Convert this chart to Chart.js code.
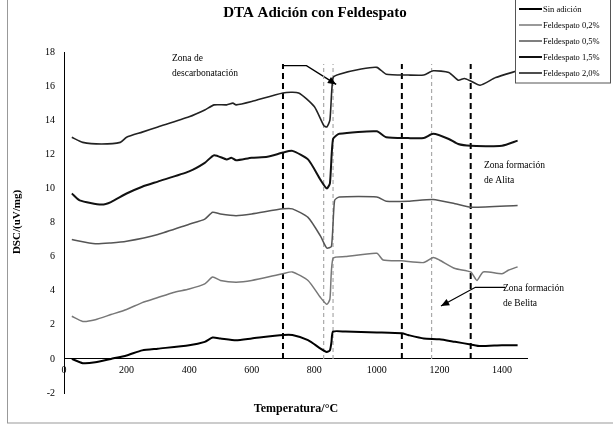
<!DOCTYPE html>
<html><head><meta charset="utf-8">
<script src="https://cdn.jsdelivr.net/npm/chart.js@4"></script>
<style>body{margin:0;background:#fff}#wrap{width:613px;height:427px}</style>
</head><body><div id="wrap"><canvas id="c"></canvas></div>
<script>
const seriesNames = ['Sin adición', 'Feldespato 0,2%', 'Feldespato 0,5%', 'Feldespato 1,5%', 'Feldespato 2,0%'];
const sinAdicion = [[25,0],[60,-0.25],[100,-0.2],[150,0],[200,0.2],[250,0.5],[300,0.6],[400,0.8],[450,1.0],[475,1.25],[500,1.2],[550,1.1],[600,1.2],[700,1.4],[730,1.4],[780,1.1],[820,0.6],[840,0.4],[850,0.5],[855,1.0],[860,1.6],[900,1.6],[1000,1.55],[1080,1.5],[1100,1.4],[1150,1.2],[1200,1.15],[1250,1.0],[1300,0.85],[1330,0.75],[1400,0.8],[1450,0.8]];
const feld02 = [[25,2.5],[60,2.2],[100,2.3],[150,2.6],[200,2.9],[250,3.3],[300,3.6],[350,3.9],[400,4.1],[450,4.4],[475,4.8],[500,4.6],[550,4.5],[600,4.6],[700,5.0],[730,5.1],[780,4.6],[820,3.6],[840,3.2],[850,3.5],[860,5.9],[900,6.0],[1000,6.2],[1020,5.8],[1080,5.75],[1150,5.65],[1180,5.95],[1200,5.8],[1250,5.3],[1300,5.1],[1320,4.6],[1340,5.1],[1400,5.0],[1420,5.2],[1450,5.4]];
const feld05 = [[25,7.0],[100,6.75],[150,6.8],[200,6.9],[300,7.3],[400,7.9],[450,8.2],[475,8.6],[500,8.5],[550,8.4],[600,8.5],[700,8.8],[730,8.8],[780,8.3],[820,7.2],[840,6.5],[855,6.6],[865,9.3],[880,9.5],[1000,9.5],[1030,9.25],[1100,9.25],[1180,9.35],[1250,9.1],[1300,8.9],[1450,9.0]];
const feld15 = [[25,9.7],[50,9.3],[120,9.05],[150,9.2],[200,9.7],[250,10.1],[300,10.4],[400,11.0],[450,11.5],[480,11.95],[520,11.7],[535,11.8],[550,11.65],[600,11.8],[650,11.85],[700,12.1],[730,12.2],[780,11.7],[820,10.5],[840,10.0],[850,10.3],[860,12.9],[880,13.2],[1000,13.35],[1030,13.0],[1100,12.95],[1150,12.95],[1180,13.2],[1230,12.9],[1260,12.6],[1300,12.5],[1400,12.5],[1450,12.8]];
const feld20 = [[25,13.0],[60,12.7],[120,12.6],[180,12.7],[200,13.0],[250,13.3],[300,13.6],[400,14.2],[450,14.6],[480,14.9],[520,14.9],[540,15.0],[550,14.9],[600,15.1],[700,15.6],[750,15.6],[800,14.8],[830,13.7],[840,13.6],[850,14.0],[860,16.5],[880,16.7],[950,17.0],[1000,17.1],[1030,16.7],[1100,16.65],[1150,16.65],[1180,16.9],[1230,16.8],[1260,16.35],[1280,16.45],[1300,16.3],[1330,16.05],[1380,16.5],[1450,16.9]];
const seriesColors = ['#000', '#777', '#555', '#111', '#222'];
const seriesWidths = [2, 1.5, 1.5, 2, 1.6];
const blackMarks = [700, 1080, 1300];
const grayMarks = [830, 860, 1175];
const arrowDescarb = [[700,17.2],[775,17.2],[870,16.1]];
const arrowBelita = [[1410,4.2],[1315,4.2],[1205,3.1]];

const pts = a => a.map(p => ({x: p[0], y: p[1]}));
const datasets = [sinAdicion, feld02, feld05, feld15, feld20].map((d, i) => ({
  data: pts(d), borderColor: seriesColors[i], borderWidth: seriesWidths[i], pointRadius: 0, tension: 0.2
}));
blackMarks.forEach(x => datasets.push({data: [{x, y: 0}, {x, y: 17.3}], borderColor: '#000', borderWidth: 2, borderDash: [6, 4], pointRadius: 0}));
grayMarks.forEach(x => datasets.push({data: [{x, y: 0}, {x, y: 17.3}], borderColor: '#aaa', borderWidth: 1.2, borderDash: [4, 3], pointRadius: 0}));
[arrowDescarb, arrowBelita].forEach(a => datasets.push({data: pts(a), borderColor: '#000', borderWidth: 1.3, pointRadius: 0, arrow: true}));

const serif = '"Liberation Serif", "DejaVu Serif", serif';

const extras = {
  id: 'extras',
  afterDraw(chart) {
    const ctx = chart.ctx, xs = chart.scales.x, ys = chart.scales.y;
    ctx.save();
    ctx.strokeStyle = '#999'; ctx.lineWidth = 1;
    ctx.strokeRect(7.5, -1, 610, 424);
    // arrowheads
    chart.data.datasets.forEach(ds => {
      if (!ds.arrow) return;
      const n = ds.data.length, a = ds.data[n - 2], b = ds.data[n - 1];
      const x1 = xs.getPixelForValue(a.x), y1 = ys.getPixelForValue(a.y);
      const x2 = xs.getPixelForValue(b.x), y2 = ys.getPixelForValue(b.y);
      const ang = Math.atan2(y2 - y1, x2 - x1);
      ctx.fillStyle = '#000';
      ctx.beginPath();
      ctx.moveTo(x2, y2);
      ctx.lineTo(x2 - 9 * Math.cos(ang - 0.4), y2 - 9 * Math.sin(ang - 0.4));
      ctx.lineTo(x2 - 9 * Math.cos(ang + 0.4), y2 - 9 * Math.sin(ang + 0.4));
      ctx.fill();
    });
    ctx.fillStyle = '#000';
    ctx.font = 'bold 15px ' + serif; ctx.textAlign = 'center';
    ctx.fillText('DTA Adición con Feldespato', 315, 17);
    ctx.font = 'bold 12px ' + serif;
    ctx.fillText('Temperatura/°C', 296, 412);
    ctx.save();
    ctx.translate(20, 222); ctx.rotate(-Math.PI / 2);
    ctx.font = 'bold 11px ' + serif;
    ctx.fillText('DSC/(uV/mg)', 0, 0);
    ctx.restore();
    ctx.font = '9.5px ' + serif; ctx.textAlign = 'left';
    ctx.fillText('Zona de', 172, 61);
    ctx.fillText('descarbonatación', 172, 76);
    ctx.fillText('Zona formación', 484, 168);
    ctx.fillText('de Alita', 484, 183);
    ctx.fillText('Zona formación', 503, 291);
    ctx.fillText('de Belita', 503, 306);
    // legend
    ctx.fillStyle = '#fff'; ctx.strokeStyle = '#555';
    ctx.fillRect(515, 0, 96, 83); ctx.strokeRect(515.5, -1, 95, 84);
    ctx.font = '8.5px ' + serif;
    seriesNames.forEach((name, i) => {
      const y = 9 + i * 16;
      ctx.strokeStyle = seriesColors[i]; ctx.lineWidth = seriesWidths[i];
      ctx.beginPath(); ctx.moveTo(519, y); ctx.lineTo(542, y); ctx.stroke();
      ctx.fillStyle = '#000'; ctx.fillText(name, 543, y + 3);
    });
    ctx.restore();
  }
};

new Chart(document.getElementById('c'), {
  type: 'line',
  data: {datasets},
  options: {
    responsive: true, maintainAspectRatio: false, animation: false,
    layout: {padding: {top: 52, right: 86, left: 0, bottom: 34}},
    plugins: {legend: {display: false}, tooltip: {enabled: false}},
    scales: {
      x: {
        type: 'linear', min: 0, max: 1480, position: {y: 0},
        afterBuildTicks: s => { s.ticks = [0, 200, 400, 600, 800, 1000, 1200, 1400].map(v => ({value: v})); },
        ticks: {color: '#000', font: {family: serif, size: 10}, padding: 2, callback: v => String(v)},
        grid: {display: false, drawTicks: true, tickLength: 3},
        border: {color: '#000'}
      },
      y: {
        min: -2, max: 18,
        afterFit: s => { s.width = 64; },
        ticks: {stepSize: 2, color: '#000', font: {family: serif, size: 10}, padding: 6},
        grid: {display: false, tickLength: 3},
        border: {color: '#000'}
      }
    }
  },
  plugins: [extras]
});
</script></body></html>
